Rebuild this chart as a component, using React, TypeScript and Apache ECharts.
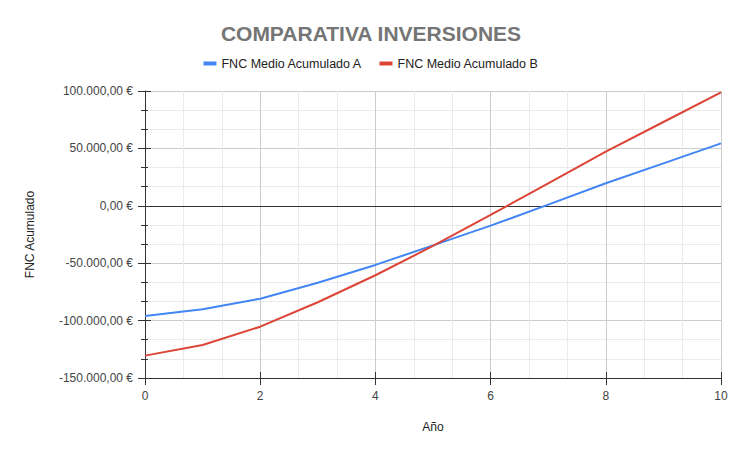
import React, { useEffect, useRef } from "react";
import * as echarts from "echarts";

const years = [0, 1, 2, 3, 4, 5, 6, 7, 8, 9, 10];
const seriesA = [-96000, -90200, -80900, -67000, -51500, -34500, -17300, 1000, 19600, 37000, 54400];
const seriesB = [-130500, -121200, -105300, -84000, -60500, -35000, -8000, 19500, 47100, 73000, 98800];
const seriesNames = ["FNC Medio Acumulado A", "FNC Medio Acumulado B"];
const colors = ["#4285F4", "#DB4437"];

const fmt = (v: number) => {
  const neg = v < 0;
  const abs = Math.abs(v);
  const intPart = Math.floor(abs).toString().replace(/\B(?=(\d{3})+(?!\d))/g, ".");
  return (neg ? "-" : "") + intPart + ",00 €";
};

const FONT = "Arial, 'Liberation Sans', sans-serif";

export default function App() {
  const ref = useRef<HTMLDivElement>(null);
  useEffect(() => {
    document.body.style.margin = "0";
    const chart = echarts.init(ref.current!, null, { renderer: "svg" });
    const yBase = {
      type: "value" as const,
      min: -150000,
      max: 100000,
      interval: 50000,
      position: "left" as const,
    };
    const xBase = {
      type: "value" as const,
      min: 0,
      max: 10,
      interval: 2,
      position: "bottom" as const,
    };
    chart.setOption({
      animation: false,
      textStyle: { fontFamily: FONT },
      title: {
        text: "COMPARATIVA INVERSIONES",
        left: "center",
        top: 18,
        textStyle: { fontSize: 21, fontWeight: "bold", color: "#757575", fontFamily: FONT },
      },
      legend: {
        top: 52,
        left: "center",
        itemWidth: 13,
        itemHeight: 4,
        itemGap: 17,
        icon: "rect",
        textStyle: { fontSize: 12.5, color: "#222", fontFamily: FONT },
        data: seriesNames,
      },
      grid: { left: 145, right: 21, top: 91, bottom: 76 },
      xAxis: [
        {
          ...xBase,
          name: "Año",
          nameLocation: "middle",
          nameGap: 43,
          nameTextStyle: { fontSize: 12, color: "#222", fontFamily: FONT },
          axisLine: { show: true, onZero: false, lineStyle: { color: "#333", width: 1 } },
          axisTick: { show: true, length: 7, inside: false, lineStyle: { color: "#333" } },
          axisLabel: { fontSize: 12, color: "#444", margin: 12, fontFamily: FONT },
          splitLine: { show: true, lineStyle: { color: "#cccccc" } },
          minorTick: { show: false, splitNumber: 3 },
          minorSplitLine: { show: true, lineStyle: { color: "#ebebeb" } },
        },
        {
          ...xBase,
          axisLine: { show: false, onZero: false },
          axisTick: { show: true, length: 6, inside: true, lineStyle: { color: "#333" } },
          axisLabel: { show: false },
          splitLine: { show: false },
          minorTick: { show: false },
          minorSplitLine: { show: false },
        },
      ],
      yAxis: [
        {
          ...yBase,
          name: "FNC Acumulado",
          nameLocation: "middle",
          nameGap: 109,
          nameRotate: 90,
          nameTextStyle: { fontSize: 12, color: "#222", fontFamily: FONT },
          axisLine: { show: true, lineStyle: { color: "#333", width: 1 } },
          axisTick: { show: true, length: 7, lineStyle: { color: "#333" } },
          axisLabel: { fontSize: 12, color: "#444", margin: 12, formatter: fmt, fontFamily: FONT },
          splitLine: { show: true, lineStyle: { color: "#cccccc" } },
          minorTick: { show: true, splitNumber: 3, length: 4, lineStyle: { color: "#333" } },
          minorSplitLine: { show: true, lineStyle: { color: "#ebebeb" } },
        },
        {
          ...yBase,
          axisLine: { show: false },
          axisTick: { show: true, inside: true, length: 6, lineStyle: { color: "#333" } },
          axisLabel: { show: false },
          splitLine: { show: false },
          minorTick: { show: true, splitNumber: 3, length: 3, lineStyle: { color: "#333" } },
          minorSplitLine: { show: false },
        },
      ],
      series: [
        {
          name: seriesNames[0],
          type: "line",
          data: years.map((x, i) => [x, seriesA[i]]),
          showSymbol: false,
          lineStyle: { width: 2, color: colors[0] },
          itemStyle: { color: colors[0] },
          z: 3,
          markLine: {
            silent: true,
            symbol: "none",
            label: { show: false },
            lineStyle: { color: "#333", width: 1, type: "solid" },
            data: [{ yAxis: 0 }],
            z: 1,
          },
        },
        {
          name: seriesNames[1],
          type: "line",
          data: years.map((x, i) => [x, seriesB[i]]),
          showSymbol: false,
          lineStyle: { width: 2, color: colors[1] },
          itemStyle: { color: colors[1] },
          z: 4,
        },
      ],
    });
    return () => chart.dispose();
  }, []);
  return <div ref={ref} style={{ width: 742, height: 454 }} />;
}
